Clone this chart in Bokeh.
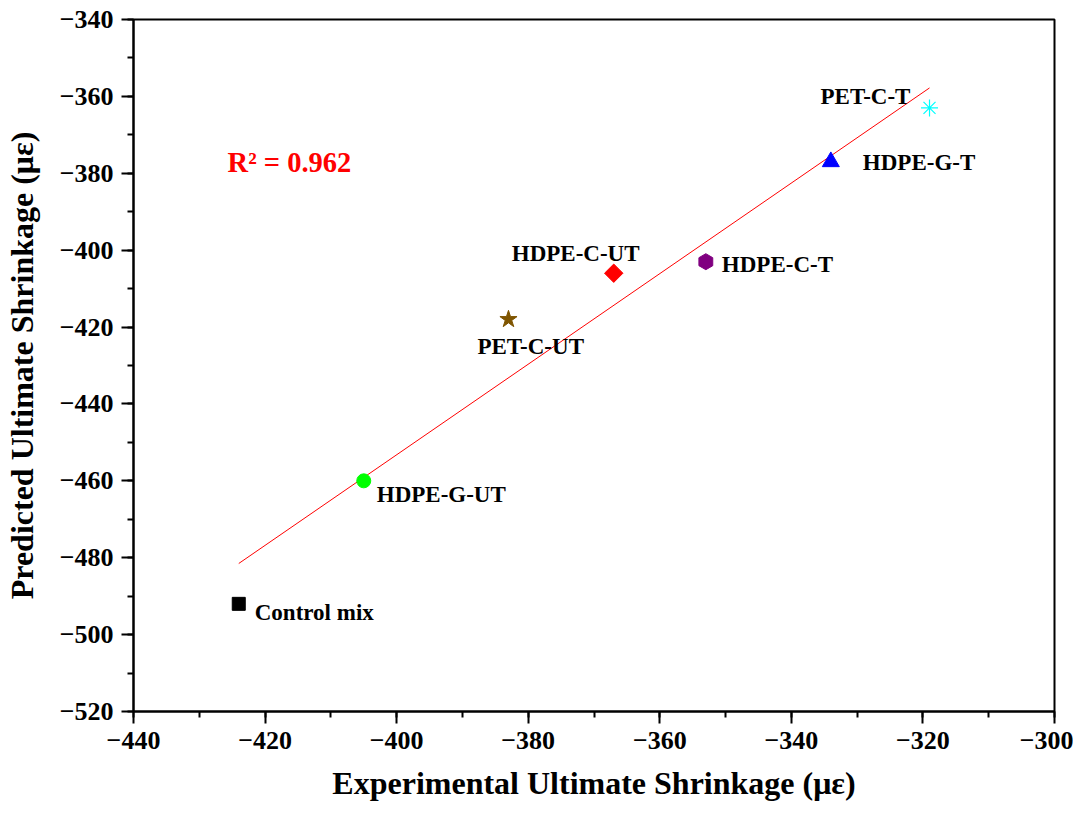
import numpy as np
from bokeh.plotting import figure
from bokeh.models import ColumnDataSource, SingleIntervalTicker, Label
from bokeh.core.properties import value
from bokeh.embed import file_html
from bokeh.resources import INLINE

# ---- data ----
names = ["Control mix", "HDPE-G-UT", "PET-C-UT", "HDPE-C-UT", "HDPE-C-T", "HDPE-G-T", "PET-C-T"]
experimental = [-424, -405, -383, -367, -353, -334, -319]
predicted = [-492, -460, -418, -406, -403, -377, -363]
fit_x = [-424, -319]
fit_y = [-481.5, -357.8]
r2_text = "R² = 0.962"
r2_pos = (-425.7, -377.2)
x_ticks = [-440, -420, -400, -380, -360, -340, -320, -300]
x_tick_labels = ["−440", "−420", "−400", "−380", "−360", "−340", "−320", "−300"]
y_ticks = [-520, -500, -480, -460, -440, -420, -400, -380, -360, -340]
y_tick_labels = ["−520", "−500", "−480", "−460", "−440", "−420", "−400", "−380", "−360", "−340"]

# ---- styles ----
markers = [
    dict(marker="square", size=13, color="#000000", angle=0),
    dict(marker="circle", size=14, color="#00FF00", angle=0),
    dict(marker="star", size=18, color="#7F5500", angle=0),
    dict(marker="square", size=13, color="#FF0000", angle=np.pi / 4),
    dict(marker="hex", size=16, color="#800080", angle=np.pi / 2),
    dict(marker="triangle", size=17, color="#0000FF", angle=0),
    dict(marker="asterisk", size=17, color="#00FFFF", angle=0),
]
label_dx = [16, 13, -31, -102, 16, 32, -109]
label_dy = [9, 14, 27, -20, 3, 1, -11]

FONT = "Liberation Serif"

p = figure(width=1073, height=804, x_range=(-440, -300), y_range=(-520, -340),
           output_backend="svg", toolbar_location=None,
           min_border_left=133, min_border_right=19, min_border_top=19, min_border_bottom=93)
p.xgrid.grid_line_color = None
p.ygrid.grid_line_color = None
p.outline_line_color = "black"
p.outline_line_width = 2
p.background_fill_color = "white"

for ax, ticks, labels in ((p.xaxis[0], x_ticks, x_tick_labels), (p.yaxis[0], y_ticks, y_tick_labels)):
    ax.ticker = SingleIntervalTicker(interval=20, num_minor_ticks=2)
    ax.major_label_overrides = {t: l for t, l in zip(ticks, labels)}
    ax.axis_line_width = 2
    ax.major_tick_line_width = 2
    ax.minor_tick_line_width = 2
    ax.major_tick_out = 12
    ax.major_tick_in = 0
    ax.minor_tick_out = 6
    ax.minor_tick_in = 0
    ax.major_label_text_font = FONT
    ax.major_label_text_font_style = "bold"
    ax.major_label_text_font_size = "26px"
    ax.major_label_text_color = "black"
    ax.axis_label_text_font = FONT
    ax.axis_label_text_font_style = "bold"
    ax.axis_label_text_font_size = "32px"
    ax.axis_label_text_color = "black"

p.xaxis.axis_label = "Experimental Ultimate Shrinkage (με)"
p.yaxis.axis_label = "Predicted Ultimate Shrinkage (με)"
p.xaxis.major_label_standoff = 8
p.yaxis.major_label_standoff = 8
p.xaxis.axis_label_standoff = 13
p.yaxis.axis_label_standoff = 17

# fit line
p.line(fit_x, fit_y, line_color="#FF0000", line_width=1)

# points
for i, m in enumerate(markers):
    p.scatter([experimental[i]], [predicted[i]], marker=m["marker"], size=m["size"],
              fill_color=m["color"], line_color=m["color"], angle=m["angle"],
              line_width=1.2 if m["marker"] == "asterisk" else 1)

# point labels
src = ColumnDataSource(dict(x=experimental, y=predicted, text=names, dx=label_dx, dy=label_dy))
p.text(x="x", y="y", text="text", x_offset="dx", y_offset="dy", source=src,
       text_font=value(FONT), text_font_style="bold", text_font_size="23px",
       text_color="black", text_align="left", text_baseline="alphabetic")

p.add_layout(Label(x=r2_pos[0], y=r2_pos[1], text=r2_text, text_font=FONT,
                   text_font_style="bold", text_font_size="28.5px", text_color="#FF0000",
                   text_align="left", text_baseline="alphabetic"))

open("out.html", "w").write(file_html(p, INLINE))
